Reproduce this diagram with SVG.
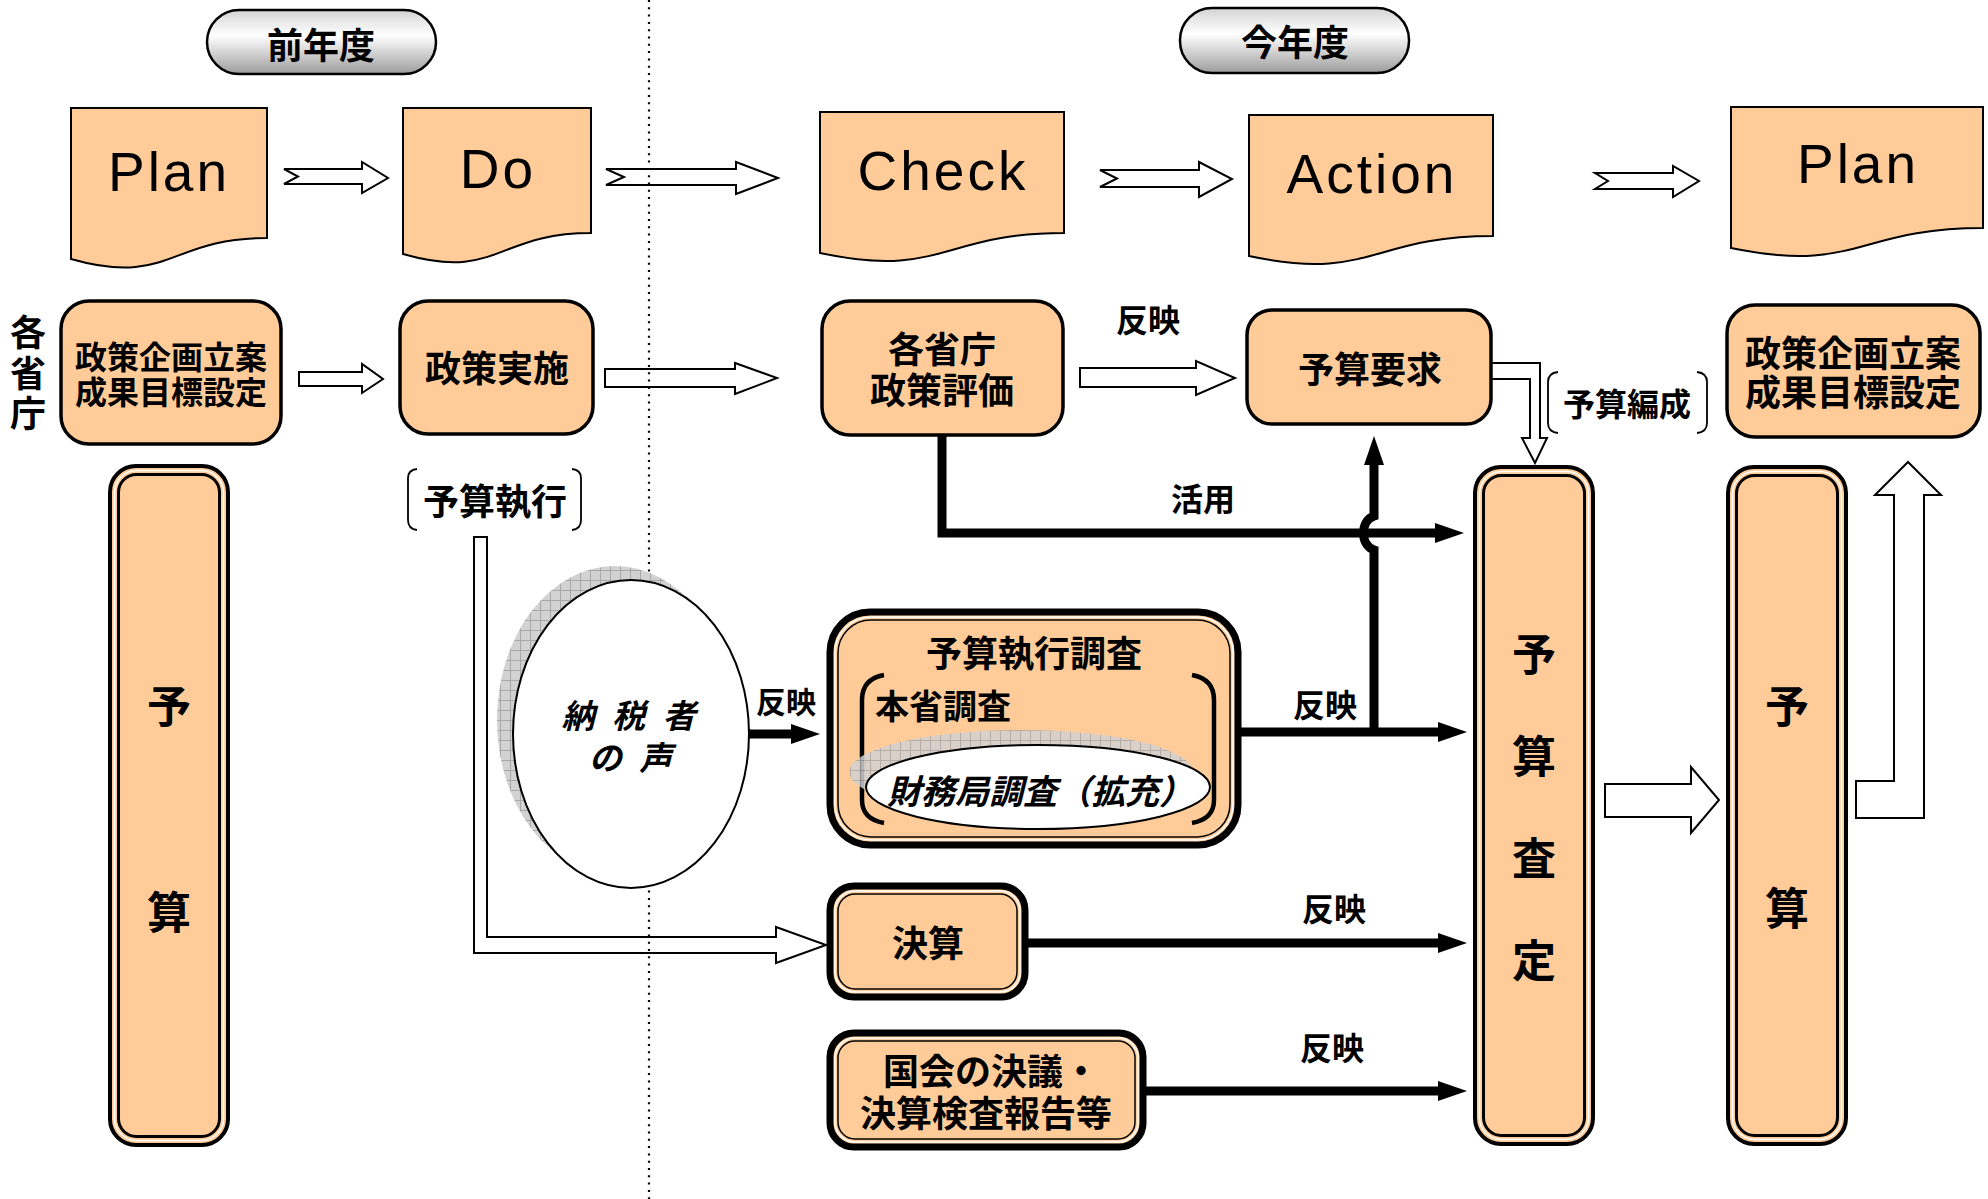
<svg xmlns="http://www.w3.org/2000/svg" width="1988" height="1199" viewBox="0 0 1988 1199">
<defs>
<style>
.cjk{font-family:"Noto Sans CJK JP","Noto Sans CJK SC",sans-serif;font-weight:700;fill:#000;text-anchor:middle;dominant-baseline:central}
.it{font-style:italic}
.lat{font-family:"Liberation Sans",Arial,sans-serif;font-size:55px;letter-spacing:3px;fill:#000;text-anchor:middle}
.doc{fill:#FFCC99;stroke:#000;stroke-width:2}
.box{fill:#FFCC99;stroke:#000;stroke-width:3.5}
.blk{fill:#fff;stroke:#000;stroke-width:2;stroke-linejoin:miter}
.thick{fill:none;stroke:#000;stroke-width:9;stroke-linejoin:miter}
.brk{fill:none;stroke:#000;stroke-width:1.8}
.o1{fill:#FFCC99;stroke:#000;stroke-width:4}
.o2{fill:none;stroke:#fff;stroke-width:1.5}
.o3{fill:none;stroke:#000;stroke-width:3}
.t1{fill:#FFCC99;stroke:#000;stroke-width:7}
.t3{fill:none;stroke:#000;stroke-width:1.5}
.pill{fill:url(#pill);stroke:#000;stroke-width:2.5}
.shadow{fill:url(#hatch)}
</style>
<linearGradient id="pill" x1="0" y1="0" x2="0" y2="1">
<stop offset="0" stop-color="#d4d4d4"/><stop offset="0.4" stop-color="#ffffff"/><stop offset="1" stop-color="#9c9c9c"/>
</linearGradient>
<pattern id="hatch" width="10" height="10" patternUnits="userSpaceOnUse">
<rect width="10" height="10" fill="#d2d2d2"/><path d="M0,0.5 H10 M0.5,0 V10" stroke="#a8a8a8" stroke-width="1"/>
</pattern>
<marker id="ah" markerUnits="userSpaceOnUse" markerWidth="30" markerHeight="20" refX="0" refY="10" orient="auto">
<path d="M0,0 L29,10 L0,20 Z" fill="#000"/>
</marker>
</defs>
<rect width="1988" height="1199" fill="#fff"/>

<!-- year labels -->
<g id="pill-prev"><rect class="pill" x="207" y="10" width="229" height="64" rx="32"/><text class="cjk" x="321" y="43" font-size="36">前年度</text></g>
<g id="pill-curr"><rect class="pill" x="1180" y="8" width="229" height="65" rx="32"/><text class="cjk" x="1295" y="40" font-size="36">今年度</text></g>

<!-- connectors -->
<g id="connectors">
<path class="blk" d="M284,169 H362 V162 L388,178 L362,193 V184 H284 L298,176.5 Z"/>
<path class="blk" d="M606,169 H736 V162 L778,178 L736,194 V185 H606 L624,177 Z"/>
<path class="blk" d="M1100,170 H1199 V162 L1232,179 L1199,197 V187 H1100 L1117,178.5 Z"/>
<path class="blk" d="M1595,173 H1673 V166 L1699,181 L1673,197 V189 H1595 L1608,181 Z"/>
<path class="blk" d="M299,372 H362 V364 L383,379 L362,393 V386 H299 Z"/>
<path class="blk" d="M605,369 H735 V363 L777,378 L735,394 V387 H605 Z"/>
<path class="blk" d="M1080,368 H1196 V361 L1235,378 L1196,395 V387 H1080 Z"/>
<path class="blk" d="M1491,363 H1540 V438 H1547 L1535,463 L1522,438 H1530 V379 H1491 Z"/>
<path class="blk" d="M1605,784 H1691 V767 L1719,800 L1691,833 V817 H1605 Z"/>
<path class="blk" d="M1856,781 H1894 V495 H1875 L1908,462 L1941,495 H1924 V818 H1856 Z"/>
<path class="blk" d="M474,537 H487 V937 H776 V927 L826,945 L776,963 V953 H474 Z"/>
<polyline class="thick" points="942,435 942,533 1435,533" stroke-width="10" marker-end="url(#ah)"/>
<line class="thick" x1="1238" y1="732" x2="1438" y2="732" marker-end="url(#ah)"/>
<path class="thick" stroke-width="8" d="M1374,736 V550 C1360,545 1360,521 1374,516 V465" marker-end="url(#ah)"/>
<line class="thick" x1="1025" y1="943" x2="1438" y2="943" marker-end="url(#ah)"/>
<line class="thick" x1="1143" y1="1091" x2="1438" y2="1091" marker-end="url(#ah)"/>
<line class="thick" x1="749" y1="734" x2="791" y2="734" marker-end="url(#ah)"/>
</g>

<!-- dotted year divider -->
<g id="divider"><line x1="649" y1="0" x2="649" y2="1199" stroke="#000" stroke-width="2.2" stroke-dasharray="2,5.3"/></g>

<!-- PDCA documents -->
<g id="doc-plan1"><path class="doc" d="M71,108 H267 V238 C169,238 169,287 71,259 Z"/><text class="lat" x="169" y="191">Plan</text></g>
<g id="doc-do"><path class="doc" d="M403,108 H591 V233 C497,233 497,281 403,254 Z"/><text class="lat" x="498" y="188">Do</text></g>
<g id="doc-check"><path class="doc" d="M820,112 H1064 V233 C942,233 942,279 820,253 Z"/><text class="lat" x="943" y="190">Check</text></g>
<g id="doc-action"><path class="doc" d="M1249,115 H1493 V236 C1371,236 1371,282 1249,256 Z"/><text class="lat" x="1372" y="193">Action</text></g>
<g id="doc-plan2"><path class="doc" d="M1731,107 H1983 V228 C1857,228 1857,274 1731,248 Z"/><text class="lat" x="1858" y="183">Plan</text></g>

<!-- left label -->
<g id="label-kakushocho">
<text class="cjk" font-size="36"><tspan x="28" y="330">各</tspan><tspan x="28" y="371">省</tspan><tspan x="28" y="411">庁</tspan></text>
</g>

<!-- second row boxes -->
<g id="box-kikaku1"><rect class="box" x="61" y="301" width="220" height="143" rx="28"/>
<text class="cjk" font-size="32"><tspan x="171" y="355">政策企画立案</tspan><tspan x="171" y="390">成果目標設定</tspan></text></g>
<g id="box-jisshi"><rect class="box" x="400" y="301" width="193" height="133" rx="28"/>
<text class="cjk" x="497" y="366" font-size="36">政策実施</text></g>
<g id="box-hyoka"><rect class="box" x="822" y="301" width="241" height="134" rx="28"/>
<text class="cjk" font-size="36"><tspan x="942" y="347">各省庁</tspan><tspan x="942" y="388">政策評価</tspan></text></g>
<g id="box-yokyu"><rect class="box" x="1247" y="310" width="244" height="114" rx="25"/>
<text class="cjk" x="1370" y="367" font-size="36">予算要求</text></g>
<g id="box-kikaku2"><rect class="box" x="1727" y="305" width="253" height="132" rx="28"/>
<text class="cjk" font-size="36"><tspan x="1853" y="351">政策企画立案</tspan><tspan x="1853" y="390">成果目標設定</tspan></text></g>

<!-- labels on connectors -->
<g id="label-hanei-top"><text class="cjk" x="1148" y="318" font-size="32">反映</text></g>
<g id="label-hensei">
<path class="brk" d="M1558,372 Q1548,373 1548,382 V423 Q1548,432 1558,433"/>
<path class="brk" d="M1697,372 Q1707,373 1707,382 V423 Q1707,432 1697,433"/>
<text class="cjk" x="1627" y="402" font-size="32">予算編成</text></g>
<g id="label-shikko">
<path class="brk" d="M417,469 Q408,470 408,478 V520 Q408,529 417,530"/>
<path class="brk" d="M572,469 Q581,470 581,478 V520 Q581,529 572,530"/>
<text class="cjk" x="495" y="499" font-size="36">予算執行</text></g>
<g id="label-katsuyo"><text class="cjk" x="1203" y="497" font-size="32">活用</text></g>
<g id="label-hanei-voice"><text class="cjk" x="786" y="700" font-size="30">反映</text></g>
<g id="label-hanei-chosa"><text class="cjk" x="1325" y="703" font-size="32">反映</text></g>
<g id="label-hanei-kessan"><text class="cjk" x="1334" y="907" font-size="32">反映</text></g>
<g id="label-hanei-kokkai"><text class="cjk" x="1332" y="1046" font-size="32">反映</text></g>

<!-- budget columns -->
<g id="col-yosan1">
<rect class="o1" x="110" y="466" width="118" height="679" rx="26"/>
<rect class="o2" x="114.5" y="470.5" width="109" height="670" rx="22"/>
<rect class="o3" x="118.5" y="474.5" width="101" height="662" rx="18"/>
<text class="cjk" font-size="44"><tspan x="169" y="704">予</tspan><tspan x="169" y="910">算</tspan></text></g>
<g id="col-satei">
<rect class="o1" x="1475" y="467" width="118" height="677" rx="26"/>
<rect class="o2" x="1479.5" y="471.5" width="109" height="668" rx="22"/>
<rect class="o3" x="1483.5" y="475.5" width="101" height="660" rx="18"/>
<text class="cjk" font-size="44"><tspan x="1534" y="652">予</tspan><tspan x="1534" y="754">算</tspan><tspan x="1534" y="856">査</tspan><tspan x="1534" y="958">定</tspan></text></g>
<g id="col-yosan2">
<rect class="o1" x="1728" y="467" width="118" height="677" rx="26"/>
<rect class="o2" x="1732.5" y="471.5" width="109" height="668" rx="22"/>
<rect class="o3" x="1736.5" y="475.5" width="101" height="660" rx="18"/>
<text class="cjk" font-size="44"><tspan x="1787" y="704">予</tspan><tspan x="1787" y="906">算</tspan></text></g>

<!-- taxpayer voice -->
<g id="node-voice">
<ellipse class="shadow" cx="615" cy="720" rx="118" ry="154"/>
<ellipse cx="631" cy="734" rx="118" ry="154" fill="#fff" stroke="#000" stroke-width="2"/>
<text class="cjk it" font-size="33" letter-spacing="5"><tspan x="631" y="714">納 税 者</tspan><tspan x="633" y="756">の 声</tspan></text></g>

<!-- budget execution survey -->
<g id="node-chosa">
<rect class="t1" x="830" y="612" width="408" height="233" rx="40"/>
<rect class="o2" x="835" y="617" width="398" height="223" rx="36"/>
<rect class="t3" x="838" y="620" width="392" height="217" rx="33"/>
<text class="cjk" x="1034" y="651" font-size="36">予算執行調査</text>
<path fill="none" stroke="#000" stroke-width="4.5" d="M884,675 Q862,679 862,700 V800 Q862,819 884,823"/>
<path fill="none" stroke="#000" stroke-width="4.5" d="M1192,675 Q1214,679 1214,700 V800 Q1214,819 1192,823"/>
<text class="cjk" x="875" y="704" font-size="34" style="text-anchor:start">本省調査</text>
<ellipse class="shadow" cx="1021" cy="772" rx="172" ry="42" opacity="0.85"/>
<ellipse cx="1038" cy="787" rx="172" ry="42" fill="#fff" stroke="#000" stroke-width="2"/>
<text class="cjk it" x="1040" y="789" font-size="34">財務局調査（拡充）</text></g>

<!-- settlement -->
<g id="node-kessan">
<rect class="t1" x="830" y="886" width="195" height="111" rx="24"/>
<rect class="o2" x="835" y="891" width="185" height="101" rx="20"/>
<rect class="t3" x="838" y="894" width="179" height="95" rx="17"/>
<text class="cjk" x="928" y="941" font-size="36">決算</text></g>

<!-- Diet resolutions -->
<g id="node-kokkai">
<rect class="t1" x="830" y="1033" width="313" height="114" rx="24"/>
<rect class="o2" x="835" y="1038" width="303" height="104" rx="20"/>
<rect class="t3" x="838" y="1041" width="297" height="98" rx="17"/>
<text class="cjk" font-size="36"><tspan x="991" y="1069">国会の決議・</tspan><tspan x="986" y="1111">決算検査報告等</tspan></text></g>
</svg>
